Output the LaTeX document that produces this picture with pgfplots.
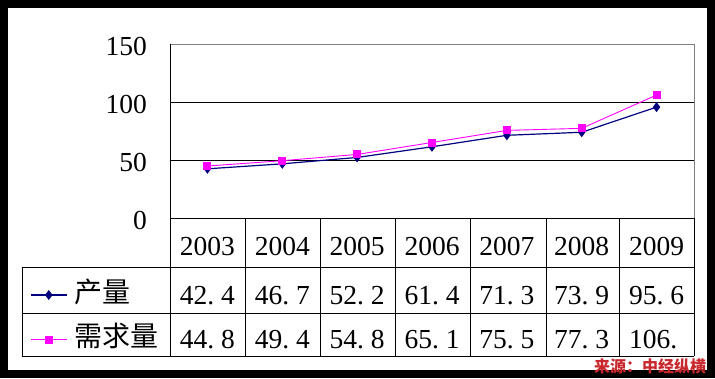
\documentclass[border=0pt]{standalone}
\usepackage{fontspec}
\usepackage{pgfplots}
\pgfplotsset{compat=1.18}
\setmainfont{Liberation Serif}
\newfontfamily\cjk{Noto Sans CJK SC}
\definecolor{navy}{HTML}{000080}
\definecolor{mag}{HTML}{FF00FF}
\definecolor{src}{HTML}{C8282D}
\definecolor{framegray}{HTML}{808080}
\newcommand\bigfont{\fontsize{27.5}{30}\selectfont}
\newcommand\dotc{\makebox[0.5em][l]{.}}
\begin{document}
\begin{tikzpicture}[x=1pt,y=1pt]
\fill[black] (0,0) rectangle (715,378);
\fill[white] (8,8) rectangle (707,370);
\begin{axis}[
  at={(170pt,160pt)}, anchor=south west,
  scale only axis, width=524pt, height=174pt,
  xmin=-0.5, xmax=6.5, ymin=0, ymax=150,
  xtick=\empty, ytick={0,50,100,150},
  ymajorgrids, grid style={black, line width=0.8pt},
  major tick length=0pt,
  axis line style={draw=none},
  /pgf/number format/assume math mode=true,
  yticklabel style={anchor=east, inner sep=0pt, xshift=-23pt, yshift=-2pt, font=\bigfont},
  clip=false,
  legend cell align=left,
  legend style={at={(axis description cs:-0.2672,-0.571)}, anchor=west, draw=none, fill=none,
    inner sep=0pt, row sep=18.7pt, column sep=7pt, font=\cjk\fontsize{28}{30}\selectfont,
    nodes={inner sep=0pt, text height=20pt, text depth=6pt, anchor=west}},
  legend image code/.code={\draw[#1,mark repeat=2,mark phase=2] plot coordinates {(0pt,0pt)(18pt,0pt)(36pt,0pt)};},
]
\addplot[navy, line width=1.2pt, mark=diamond*, mark size=4pt] coordinates {(0,42.4)(1,46.7)(2,52.2)(3,61.4)(4,71.3)(5,73.9)(6,95.6)};
\addlegendentry{产量}
\addplot[mag, line width=0.9pt, mark=square*, mark size=3.5pt] coordinates {(0,44.8)(1,49.4)(2,54.8)(3,65.1)(4,75.5)(5,77.3)(6,106)};
\addlegendentry{需求量}
\end{axis}
\draw[framegray, line width=0.8pt] (170,334) -- (694,334) -- (694,160);
\draw[black, line width=0.8pt] (170,334) -- (170,22);
\draw[black, line width=0.8pt] (170,160) -- (694,160);
\draw[black, line width=0.8pt] (22,111) -- (694,111);
\draw[black, line width=0.8pt] (22,65) -- (694,65);
\draw[black, line width=0.8pt] (22,22) -- (694,22);
\draw[black, line width=0.8pt] (22,111) -- (22,22);
\foreach \x in {245,320,395,470,546,619,694} \draw[black, line width=0.8pt] (\x,160) -- (\x,22);
\foreach \x/\t in {207.4/2003,282.3/2004,357.1/2005,432/2006,506.9/2007,581.7/2008,656.6/2009}
  \node[anchor=base, inner sep=0pt, font=\bigfont] at (\x,123) {\t};
\foreach \x/\a/\b in {207.4/42/4,282.3/46/7,357.1/52/2,432/61/4,506.9/71/3,581.7/73/9,656.6/95/6}
  \node[anchor=base, inner sep=0pt, font=\bigfont] at (\x,74) {\a\dotc\b};
\foreach \x/\a/\b in {207.4/44/8,282.3/49/4,357.1/54/8,432/65/1,506.9/75/5,581.7/77/3,656.6/106/}
  \node[anchor=base, inner sep=0pt, font=\bigfont] at (\x,29.7) {\a\dotc\b};
\node[src, inner sep=0pt, font=\cjk\bfseries\fontsize{16}{16}\selectfont] at (650,12) {来源：中经纵横};
\end{tikzpicture}
\end{document}
